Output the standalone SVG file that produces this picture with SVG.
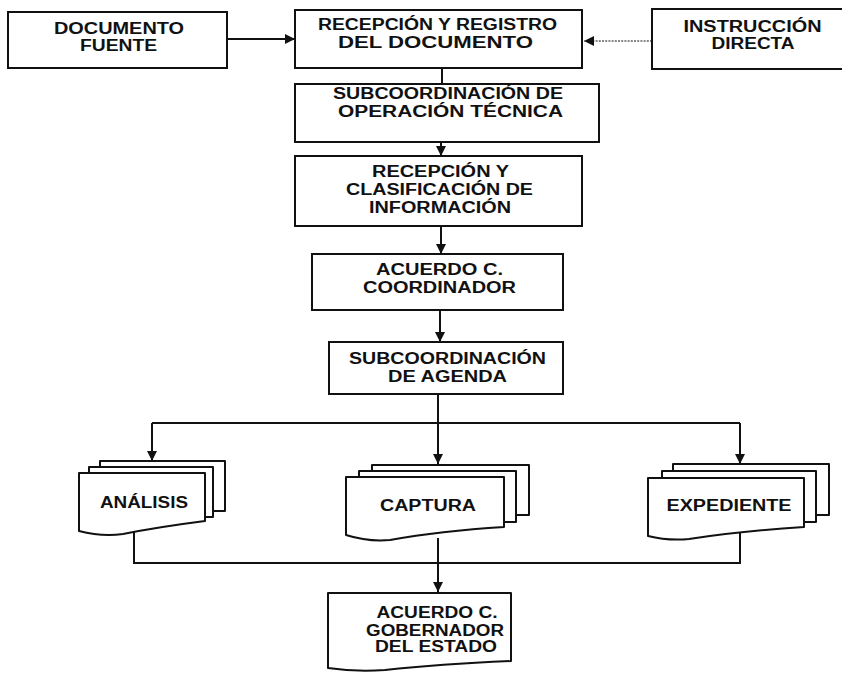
<svg xmlns="http://www.w3.org/2000/svg" width="842" height="673" viewBox="0 0 842 673">
  <style>
    .box { fill: #fff; stroke: #111; stroke-width: 2; }
    .page { fill: #fff; stroke: #111; stroke-width: 2; stroke-linejoin: round; }
    .wire { fill: none; stroke: #111; stroke-width: 2; }
    .dot { fill: none; stroke: #111; stroke-width: 1.2; stroke-dasharray: 2 1.2; }
    .lbl { font-family: "Liberation Sans", Arial, sans-serif; font-weight: bold; font-size: 16px; fill: #111; text-anchor: middle; }
  </style>
  <defs>
    <marker id="tip" viewBox="0 0 10 10" refX="10" refY="5" markerWidth="10" markerHeight="10" markerUnits="userSpaceOnUse" orient="auto">
      <path d="M0,0 L10,5 L0,10 z" fill="#111"/>
    </marker>
  </defs>
  <rect width="842" height="673" fill="#fff"/>

  <!-- connectors -->
  <g id="connectors">
    <path class="wire" d="M227,39 H295" marker-end="url(#tip)"/>
    <path class="dot" d="M652,41 H584" marker-end="url(#tip)"/>
    <path class="wire" d="M442,69 V84"/>
    <path class="wire" d="M441,142 V156" marker-end="url(#tip)"/>
    <path class="wire" d="M441,226 V254" marker-end="url(#tip)"/>
    <path class="wire" d="M440,310 V342" marker-end="url(#tip)"/>
    <path class="wire" d="M438,394 V464" marker-end="url(#tip)"/>
    <path class="wire" d="M152,423 H740"/>
    <path class="wire" d="M152,423 V461" marker-end="url(#tip)"/>
    <path class="wire" d="M740,423 V464" marker-end="url(#tip)"/>
    <path class="wire" d="M134,530 V563 H740 V528"/>
    <path class="wire" d="M438,538 V592" marker-end="url(#tip)"/>
  </g>

  <g id="documento-fuente">
    <rect class="box" x="8" y="12" width="219" height="56"/>
    <text class="lbl" x="119" y="33.5" textLength="130" lengthAdjust="spacingAndGlyphs">DOCUMENTO</text>
    <text class="lbl" x="118.5" y="51" textLength="77" lengthAdjust="spacingAndGlyphs">FUENTE</text>
  </g>

  <g id="recepcion-registro">
    <rect class="box" x="295" y="10" width="287" height="58"/>
    <text class="lbl" x="437.5" y="30" textLength="239" lengthAdjust="spacingAndGlyphs">RECEPCIÓN Y REGISTRO</text>
    <text class="lbl" x="435.5" y="48.3" textLength="195" lengthAdjust="spacingAndGlyphs">DEL DOCUMENTO</text>
  </g>

  <g id="instruccion-directa">
    <rect class="box" x="652" y="9" width="195" height="60"/>
    <text class="lbl" x="752.5" y="31.7" textLength="138" lengthAdjust="spacingAndGlyphs">INSTRUCCIÓN</text>
    <text class="lbl" x="753" y="48.5" textLength="83" lengthAdjust="spacingAndGlyphs">DIRECTA</text>
  </g>

  <g id="subcoord-operacion">
    <rect class="box" x="295" y="84" width="304" height="58"/>
    <text class="lbl" x="448" y="98.5" textLength="230" lengthAdjust="spacingAndGlyphs">SUBCOORDINACIÓN DE</text>
    <text class="lbl" x="450.5" y="116.7" textLength="225" lengthAdjust="spacingAndGlyphs">OPERACIÓN TÉCNICA</text>
  </g>

  <g id="recepcion-clasificacion">
    <rect class="box" x="295" y="156" width="287" height="70"/>
    <text class="lbl" x="440.5" y="176.7" textLength="137" lengthAdjust="spacingAndGlyphs">RECEPCIÓN Y</text>
    <text class="lbl" x="439.5" y="195" textLength="187" lengthAdjust="spacingAndGlyphs">CLASIFICACIÓN DE</text>
    <text class="lbl" x="440" y="212.7" textLength="142" lengthAdjust="spacingAndGlyphs">INFORMACIÓN</text>
  </g>

  <g id="acuerdo-coordinador">
    <rect class="box" x="312" y="254" width="251" height="56"/>
    <text class="lbl" x="439.5" y="275" textLength="127" lengthAdjust="spacingAndGlyphs">ACUERDO C.</text>
    <text class="lbl" x="439.5" y="293" textLength="153" lengthAdjust="spacingAndGlyphs">COORDINADOR</text>
  </g>

  <g id="subcoord-agenda">
    <rect class="box" x="329" y="342" width="234" height="52"/>
    <text class="lbl" x="447.5" y="364" textLength="197" lengthAdjust="spacingAndGlyphs">SUBCOORDINACIÓN</text>
    <text class="lbl" x="447.5" y="382" textLength="119" lengthAdjust="spacingAndGlyphs">DE AGENDA</text>
  </g>

  <!-- multi-page document stacks -->
  <g id="analisis">
    <rect class="page" x="100" y="461" width="125" height="50"/>
    <rect class="page" x="89" y="467" width="124" height="50"/>
    <path class="page" d="M79,473 H205 V521 Q158,527 123,534 Q102,537 79,531 Z"/>
    <text class="lbl" x="144" y="508" textLength="88" lengthAdjust="spacingAndGlyphs">ANÁLISIS</text>
  </g>

  <g id="captura">
    <rect class="page" x="372" y="465" width="157" height="50"/>
    <rect class="page" x="359" y="471" width="157" height="51"/>
    <path class="page" d="M346,477 H504 V527 Q440,531 390,540 Q368,542 346,535 Z"/>
    <text class="lbl" x="428" y="511" textLength="96" lengthAdjust="spacingAndGlyphs">CAPTURA</text>
  </g>

  <g id="expediente">
    <rect class="page" x="673" y="464" width="156" height="51"/>
    <rect class="page" x="662" y="471" width="154" height="51"/>
    <path class="page" d="M648,478 H804 V527 Q740,531 689,539 Q668,541 648,536 Z"/>
    <text class="lbl" x="729" y="511" textLength="125" lengthAdjust="spacingAndGlyphs">EXPEDIENTE</text>
  </g>

  <g id="acuerdo-gobernador">
    <path class="page" d="M328,593 H511 V661 Q440,664 385,670 Q355,672 328,668 Z"/>
    <text class="lbl" x="437" y="618" textLength="121" lengthAdjust="spacingAndGlyphs">ACUERDO C.</text>
    <text class="lbl" x="435" y="635.5" textLength="138" lengthAdjust="spacingAndGlyphs">GOBERNADOR</text>
    <text class="lbl" x="436" y="652" textLength="122" lengthAdjust="spacingAndGlyphs">DEL ESTADO</text>
  </g>
</svg>
